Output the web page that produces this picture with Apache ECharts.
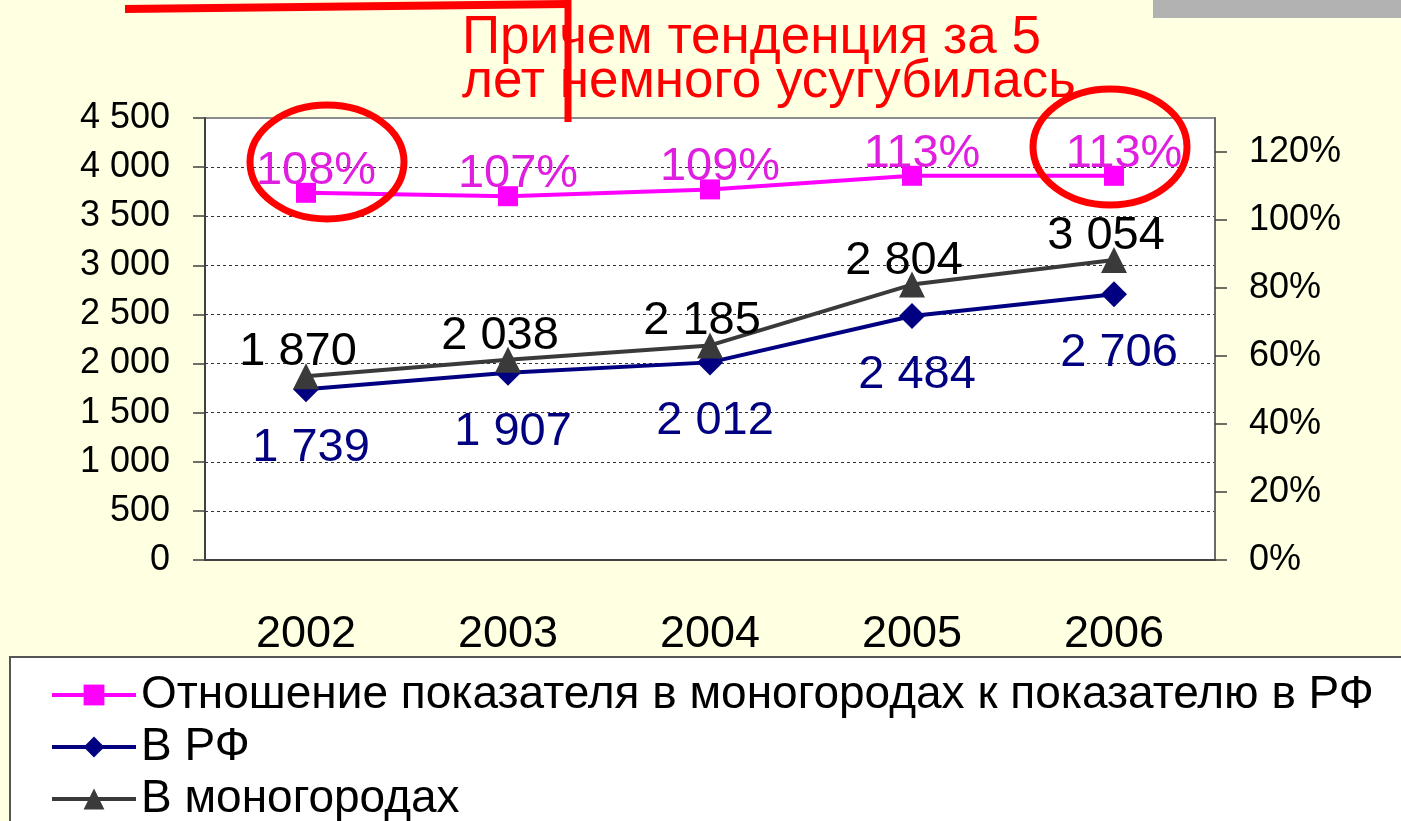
<!DOCTYPE html>
<html>
<head>
<meta charset="utf-8">
<script src="https://cdn.jsdelivr.net/npm/echarts@6/dist/echarts.min.js"></script>
<style>
html, body { margin: 0; padding: 0; background: #ffffe1; }
#chart { width: 1401px; height: 821px; }
</style>
</head>
<body>
<div id="chart"></div>
<script>
var years = ['2002', '2003', '2004', '2005', '2006'];
var ratioVals = [1.08, 1.07, 1.09, 1.13, 1.13]; // отношение, доли
var rfVals = [1739, 1907, 2012, 2484, 2706];
var monoVals = [1870, 2038, 2185, 2804, 3054];
var seriesNames = ['Отношение показателя в моногородах к показателю в РФ', 'В РФ', 'В моногородах'];
var leftMax = 4500, leftStep = 500;
var rightMax = 1.3, rightStep = 0.2;
var titleLines = ['Причем тенденция за 5', 'лет немного усугубилась'];

var FONT = '"Liberation Sans", Arial, sans-serif';

function fmt(v) {
	return String(v).replace(/\B(?=(\d{3})+(?!\d))/g, ' ');
}

var chart = echarts.init(document.getElementById('chart'));

chart.setOption({
	animation: false,
	backgroundColor: '#ffffe1',
	textStyle: { fontFamily: FONT },
	grid: {
		left: 205, right: 186, top: 118, bottom: 261,
		show: true, backgroundColor: '#ffffff', borderColor: '#8c8c8c', borderWidth: 2
	},
	xAxis: {
		type: 'category',
		data: years,
		boundaryGap: true,
		axisLine: { lineStyle: { color: '#404040', width: 2 } },
		axisTick: { length: 14, lineStyle: { color: '#404040', width: 1.5 } },
		axisLabel: { color: '#000', fontSize: 45, margin: 52, fontFamily: FONT }
	},
	yAxis: [{
		type: 'value',
		min: 0, max: leftMax, interval: leftStep,
		axisLine: { show: true, lineStyle: { color: '#404040', width: 2 } },
		axisTick: { show: true, length: 12, lineStyle: { color: '#404040', width: 1.5 } },
		axisLabel: { color: '#000', fontSize: 36, margin: 35, padding: [8, 0, 0, 0], fontFamily: FONT, formatter: fmt },
		splitLine: { show: true, showMaxLine: false, showMinLine: false, lineStyle: { color: '#333', type: [3, 3], width: 1 } }
	}, {
		type: 'value',
		min: 0, max: rightMax, interval: rightStep,
		position: 'right',
		axisLine: { show: true, lineStyle: { color: '#6a6a6a', width: 2 } },
		axisTick: { show: true, length: 12, lineStyle: { color: '#404040', width: 1.5 } },
		axisLabel: {
			color: '#000', fontSize: 36, margin: 34, padding: [12, 0, 0, 0], fontFamily: FONT, showMaxLabel: false,
			formatter: function (v) { return Math.round(v * 100) + '%'; }
		},
		splitLine: { show: false }
	}],
	legend: {
		orient: 'vertical',
		left: 50, top: 671, height: 300,
		padding: 0,
		itemWidth: 84, itemHeight: 26, itemGap: 4,
		lineStyle: { width: 4 },
		textStyle: { color: '#000', fontSize: 46, lineHeight: 48, fontFamily: FONT },
		data: seriesNames
	},
	series: [{
		name: seriesNames[0],
		type: 'line',
		yAxisIndex: 1,
		data: ratioVals,
		symbol: 'rect', symbolSize: 20,
		lineStyle: { color: '#ff00ff', width: 4 },
		itemStyle: { color: '#ff00ff' },
		label: {
			show: true, position: 'top', distance: -11, offset: [10, 0],
			color: '#e01ee0', fontSize: 47, lineHeight: 46, fontFamily: FONT,
			formatter: function (p) { return Math.round(p.value * 100) + '%'; }
		}
	}, {
		name: seriesNames[1],
		type: 'line',
		data: rfVals,
		symbol: 'diamond', symbolSize: 26,
		lineStyle: { color: '#000080', width: 4 },
		itemStyle: { color: '#000080' },
		label: {
			show: true, position: 'bottom', distance: 23, offset: [5, 0],
			color: '#000080', fontSize: 47, lineHeight: 46, fontFamily: FONT,
			formatter: function (p) { return fmt(p.value); }
		}
	}, {
		name: seriesNames[2],
		type: 'line',
		data: monoVals,
		symbol: 'triangle', symbolSize: 26,
		lineStyle: { color: '#3a3a3a', width: 4 },
		itemStyle: { color: '#3a3a3a' },
		label: {
			show: true, position: 'top', distance: -12, offset: [-8, 0],
			color: '#000', fontSize: 47, lineHeight: 46, fontFamily: FONT,
			formatter: function (p) { return fmt(p.value); }
		}
	}],
	graphic: [
		// рамка легенды
		{ type: 'rect', z: -1, shape: { x: 10, y: 657, width: 1400, height: 170 },
			style: { fill: '#ffffff', stroke: '#555', lineWidth: 2 } },
		{ type: 'rect', z: 50, shape: { x: 1153, y: 0, width: 260, height: 18 },
			style: { fill: '#b2b2b2' } },
		{ type: 'text', z: 50, left: 462, top: 12,
			style: { text: titleLines.join('\n'), fill: '#ff0000', font: '53px ' + FONT, lineHeight: 44 } },
		{ type: 'polyline', z: 60, shape: { points: [[125, 9], [568, 4]] },
			style: { stroke: '#ff0000', lineWidth: 8, fill: null } },
		{ type: 'line', z: 60, shape: { x1: 568, y1: 0, x2: 568, y2: 122 },
			style: { stroke: '#ff0000', lineWidth: 7 } },
		{ type: 'ellipse', z: 60, shape: { cx: 327, cy: 162, rx: 77, ry: 57 },
			style: { stroke: '#ff0000', lineWidth: 7, fill: null } },
		{ type: 'ellipse', z: 60, shape: { cx: 1110, cy: 147, rx: 77, ry: 58 },
			style: { stroke: '#ff0000', lineWidth: 7, fill: null } }
	]
});
</script>
</body>
</html>
